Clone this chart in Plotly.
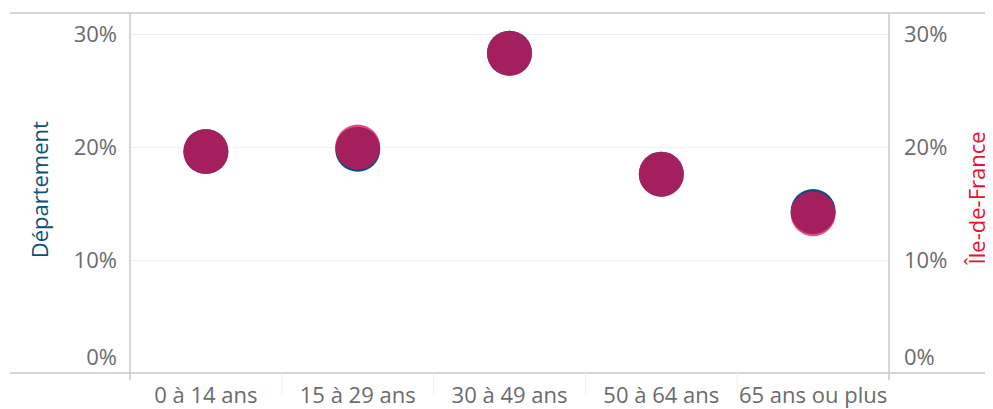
import plotly.graph_objects as go

categories = ["0 à 14 ans", "15 à 29 ans", "30 à 49 ans", "50 à 64 ans", "65 ans ou plus"]
departement = [0.196, 0.198, 0.283, 0.176, 0.143]
ile_de_france = [0.196, 0.200, 0.283, 0.176, 0.141]
y_ticks = [0.1, 0.2, 0.3]
y_ticktext = ["10%", "20%", "30%"]
y_zero_tick = [0]
y_zero_text = ["0%"]

BLUE = "#0b4f7c"
RED_TITLE = "#e8112d"
IDF_COLOR = "rgb(216,15,84)"
GRID = "#efefef"
FRAME = "#c8c8c8"
TICKCOL = "#6b6b6b"
FONT = "Open Sans"
YMAX = 0.3186

fig = go.Figure()
fig.add_trace(go.Scatter(
    x=categories, y=departement, mode="markers", name="Département",
    marker=dict(size=45, color=BLUE, line=dict(width=0)), yaxis="y", showlegend=False))
fig.add_trace(go.Scatter(
    x=categories, y=ile_de_france, mode="markers", name="Île-de-France",
    marker=dict(size=45, color=IDF_COLOR, opacity=0.75, line=dict(width=0)), yaxis="y2", showlegend=False))

yaxis_common = dict(
    range=[0, YMAX], zeroline=False, showline=False, automargin=False,
    ticks="", tickfont=dict(family=FONT, size=22, color=TICKCOL), fixedrange=True,
)

# the page body has an 8px margin, so the figure is drawn at (8, 8)
fig.update_layout(
    width=985, height=401,
    margin=dict(l=122, r=104, t=5, b=36, autoexpand=False),
    paper_bgcolor="white", plot_bgcolor="white",
    font=dict(family=FONT),
    xaxis=dict(showgrid=False, zeroline=False, showline=False, ticks="", automargin=False,
               tickfont=dict(family=FONT, size=22, color=TICKCOL),
               range=[-0.5, 4.5], ticklabelstandoff=7),
    yaxis=dict(side="left", ticklabelstandoff=12, showgrid=True, gridcolor=GRID, gridwidth=1,
               tickvals=y_ticks, ticktext=y_ticktext, **yaxis_common),
    yaxis2=dict(side="right", overlaying="y", ticklabelstandoff=14, showgrid=False,
                tickvals=y_ticks, ticktext=y_ticktext, **yaxis_common),
    yaxis3=dict(side="left", overlaying="y", ticklabelstandoff=12, showgrid=False,
                tickvals=y_zero_tick, ticktext=y_zero_text, ticklabelshift=-16, **yaxis_common),
    yaxis4=dict(side="right", overlaying="y", ticklabelstandoff=14, showgrid=False,
                tickvals=y_zero_tick, ticktext=y_zero_text, ticklabelshift=-16, **yaxis_common),
)
# invisible traces so the zero-label axes are drawn
fig.add_trace(go.Scatter(x=categories[:1], y=[None], yaxis="y3", showlegend=False, hoverinfo="skip"))
fig.add_trace(go.Scatter(x=categories[:1], y=[None], yaxis="y4", showlegend=False, hoverinfo="skip"))

# frame lines
shapes = [
    dict(type="line", xref="paper", yref="paper", x0=-0.158, x1=1.14, y0=1, y1=1, line=dict(color=FRAME, width=1.5)),
    dict(type="line", xref="paper", yref="paper", x0=-0.158, x1=1.14, y0=0, y1=0, line=dict(color=FRAME, width=1.5)),
    dict(type="line", xref="paper", yref="paper", x0=0, x1=0, y0=-0.02, y1=1, line=dict(color=FRAME, width=1.5)),
    dict(type="line", xref="paper", yref="paper", x0=1, x1=1, y0=-0.02, y1=1, line=dict(color=FRAME, width=1.5)),
]
for i in range(len(categories) - 1):
    shapes.append(dict(type="line", xref="x", yref="paper", x0=i + 0.5, x1=i + 0.5, y0=0, y1=-0.06,
                       line=dict(color="#eeeeee", width=1)))
fig.update_layout(shapes=shapes)

fig.add_annotation(text="Département", xref="paper", yref="paper", x=-0.12, y=0.51,
                   xanchor="center", yanchor="middle",
                   textangle=-90, showarrow=False, font=dict(family=FONT, size=22, color=BLUE))
fig.add_annotation(text="Île-de-France", xref="paper", yref="paper", x=1.1357, y=0.485,
                   xanchor="right", yanchor="middle", borderpad=0,
                   textangle=-90, showarrow=False, font=dict(family=FONT, size=22, color=RED_TITLE))

fig.write_html("out.html")
